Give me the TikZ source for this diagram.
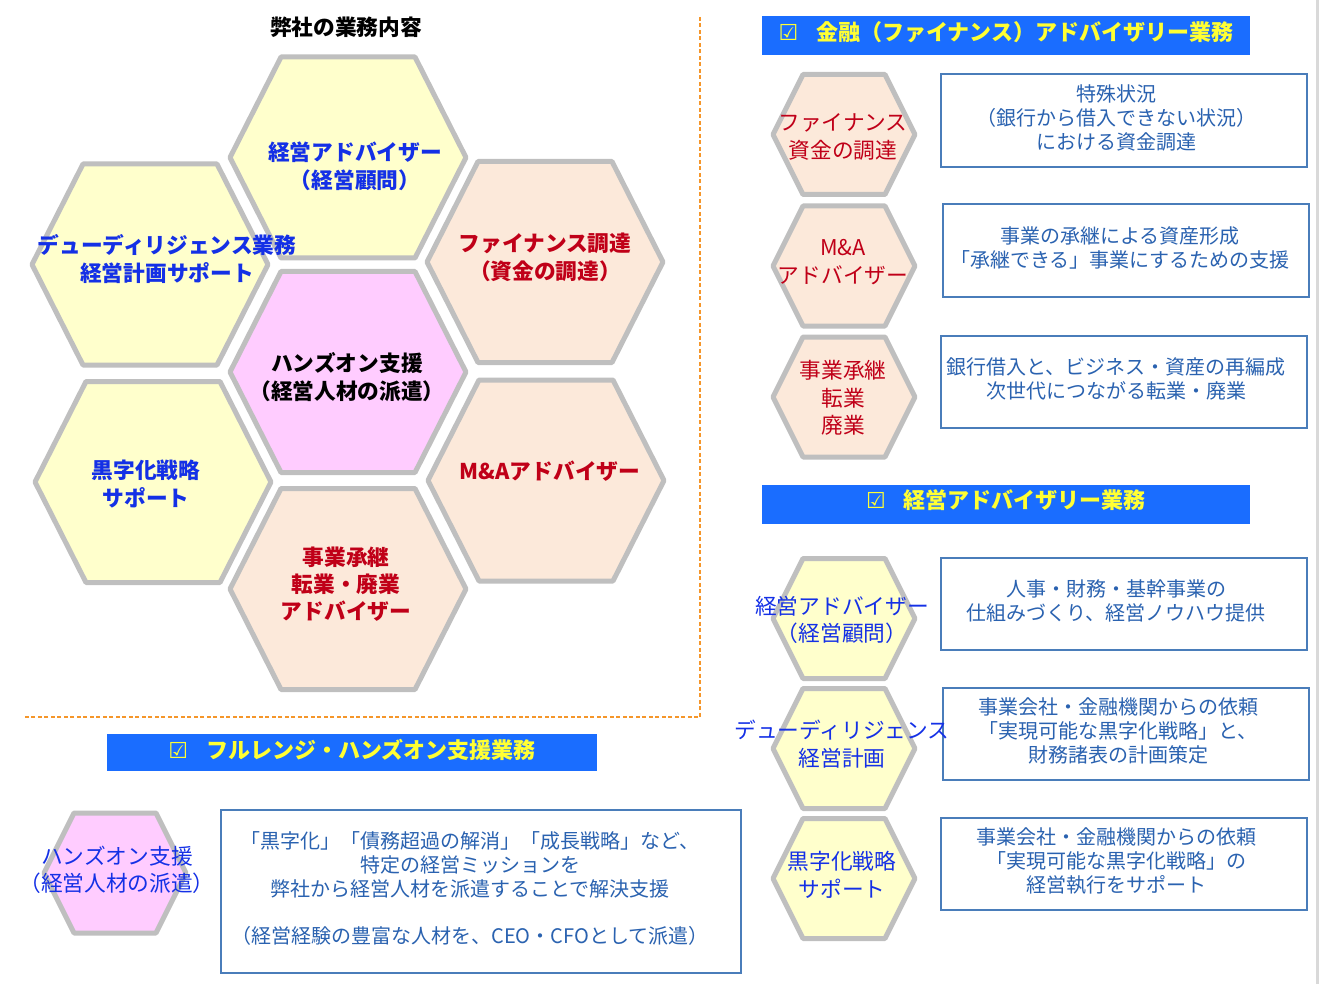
\documentclass[tikz,border=0pt]{standalone}
\usepackage{fontspec}
\setmainfont{Noto Sans CJK JP}
\newfontfamily\symbolfont{DejaVu Sans}

\definecolor{hex-gray}{HTML}{BFBFBF}
\definecolor{hex-yellow}{HTML}{FFFFCC}
\definecolor{hex-peach}{HTML}{FCE9DA}
\definecolor{hex-pink}{HTML}{FFCCFF}
\definecolor{txt-blue}{HTML}{1430E6}
\definecolor{txt-red}{HTML}{C00018}
\definecolor{desc-blue}{HTML}{2A62B0}
\definecolor{box-line}{HTML}{4A7DBA}
\definecolor{head-blue}{HTML}{1A6DFF}
\definecolor{head-yellow}{HTML}{FFFF33}
\definecolor{frame-orange}{HTML}{F5962A}
\definecolor{edge-gray}{HTML}{D9D9D9}

\tikzstyle{hex-line}=[draw={hex-gray}, line width=5pt, line join=round]
\tikzstyle{hex-text}=[align=center, inner sep=0pt, font=\fontsize{21.7}{27.5}\selectfont]
\tikzstyle{hex-bold}=[align=center, inner sep=0pt, font=\fontsize{21.7}{28}\selectfont\bfseries]
\tikzstyle{desc-box}=[draw={box-line}, line width=1.8pt, fill=white, inner sep=0pt]
\tikzstyle{desc-text}=[align=center, inner sep=0pt, text={desc-blue}, font=\fontsize{20}{24}\selectfont]
\tikzstyle{head-box}=[fill={head-blue}, inner sep=0pt]
\tikzstyle{head-text}=[inner sep=0pt, text={head-yellow}, font=\fontsize{22}{26}\selectfont\bfseries]
\tikzstyle{frame-line}=[draw={frame-orange}, line width=1.5pt, dash pattern=on 4pt off 2.5pt]

\newcommand{\hexcell}[5]{\draw[hex-line, fill=#5, shift={#1}] (-#2,0) -- (-#3,-#4) -- (#3,-#4) -- (#2,0) -- (#3,#4) -- (-#3,#4) -- cycle;}
\newcommand{\tick}{{\symbolfont\fontsize{22}{24}\selectfont ☑}\hspace{18pt}}

\begin{document}
\begin{tikzpicture}[x=1pt, y=-1pt]
      \useasboundingbox (0,0) rectangle (1319,984);

      \coordinate (frame-top) at (700,17);
      \coordinate (frame-corner) at (700,717);
      \coordinate (frame-left) at (25,717);
      \draw[frame-line] (frame-top) -- (frame-corner) -- (frame-left);

      \coordinate (edge-top) at (1317.5,0);
      \coordinate (edge-bottom) at (1317.5,984);
      \draw[draw={edge-gray}, line width=3pt] (edge-top) -- (edge-bottom);

      \hexcell{(348,157.5)}{118}{67}{100.5}{hex-yellow}
      \hexcell{(150,264.5)}{118}{67}{100.5}{hex-yellow}
      \hexcell{(545,262)}{118}{67}{100.5}{hex-peach}
      \hexcell{(348,372)}{118}{67}{100.5}{hex-pink}
      \hexcell{(153,482)}{118}{67}{100.5}{hex-yellow}
      \hexcell{(546,480.5)}{118}{67}{100.5}{hex-peach}
      \hexcell{(348,589)}{118}{67}{100.5}{hex-peach}

      \hexcell{(844,134.5)}{71}{41}{60}{hex-peach}
      \hexcell{(844,266)}{71}{41}{60}{hex-peach}
      \hexcell{(844,397)}{71}{41}{60}{hex-peach}
      \hexcell{(844,618.5)}{71}{41}{60}{hex-yellow}
      \hexcell{(844,748.5)}{71}{41}{60}{hex-yellow}
      \hexcell{(844,878.5)}{71}{41}{60}{hex-yellow}
      \hexcell{(115,873)}{71}{41}{60}{hex-pink}

      \node (head-1) at (1006,36) [head-box, minimum width=488pt, minimum height=39pt] {};
      \node (head-2) at (1006,504) [head-box, minimum width=488pt, minimum height=39pt] {};
      \node (head-3) at (352,752.5) [head-box, minimum width=490pt, minimum height=37pt] {};
      \node (head-1-txt) at ([yshift=4pt]head-1.center) [head-text] {\tick 金融（ファイナンス）アドバイザリー業務};
      \node (head-2-txt) at ([yshift=4pt]head-2.center) [head-text] {\tick 経営アドバイザリー業務};
      \node (head-3-txt) at ([yshift=3pt]head-3.center) [head-text] {\tick フルレンジ・ハンズオン支援業務};

      \node (desc-1) at (1124,120.5) [desc-box, minimum width=366pt, minimum height=93pt] {};
      \node (desc-2) at (1126,250.5) [desc-box, minimum width=366pt, minimum height=93pt] {};
      \node (desc-3) at (1124,382) [desc-box, minimum width=366pt, minimum height=92pt] {};
      \node (desc-4) at (1124,604) [desc-box, minimum width=366pt, minimum height=92pt] {};
      \node (desc-5) at (1126,734) [desc-box, minimum width=366pt, minimum height=92pt] {};
      \node (desc-6) at (1124,864) [desc-box, minimum width=366pt, minimum height=92pt] {};
      \node (desc-7) at (481,891.5) [desc-box, minimum width=520pt, minimum height=163pt] {};

      \node (desc-1-txt) at ([xshift=-8pt, yshift=3pt]desc-1.center) [desc-text] {特殊状況\\（銀行から借入できない状況）\\における資金調達};
      \node (desc-2-txt) at ([xshift=-6pt, yshift=3pt]desc-2.center) [desc-text] {事業の承継による資産形成\\「承継できる」事業にするための支援};
      \node (desc-3-txt) at ([xshift=-8pt, yshift=3pt]desc-3.center) [desc-text] {銀行借入と、ビジネス・資産の再編成\\次世代につながる転業・廃業};
      \node (desc-4-txt) at ([xshift=-8pt, yshift=3pt]desc-4.center) [desc-text] {人事・財務・基幹事業の\\仕組みづくり、経営ノウハウ提供};
      \node (desc-5-txt) at ([xshift=-8pt, yshift=3pt]desc-5.center) [desc-text] {事業会社・金融機関からの依頼\\「実現可能な黒字化戦略」と、\\財務諸表の計画策定};
      \node (desc-6-txt) at ([xshift=-8pt, yshift=3pt]desc-6.center) [desc-text] {事業会社・金融機関からの依頼\\「実現可能な黒字化戦略」の\\経営執行をサポート};
      \node (desc-7-txt) at ([xshift=-11pt, yshift=3pt]desc-7.center) [desc-text] {「黒字化」「債務超過の解消」「成長戦略」など、\\特定の経営ミッションを\\弊社から経営人材を派遣することで解決支援\\[23pt]（経営経験の豊富な人材を、CEO・CFOとして派遣）};

      \node (title) at (346,27) [hex-bold, text=black] {弊社の業務内容};
      \node (cell-advisor) at (355,166) [hex-bold, text={txt-blue}] {経営アドバイザー\\（経営顧問）};
      \node (cell-diligence) at (167,259) [hex-bold, text={txt-blue}] {デューディリジェンス業務\\経営計画サポート};
      \node (cell-finance) at (545,257) [hex-bold, text={txt-red}] {ファイナンス調達\\（資金の調達）};
      \node (cell-handson) at (347,377) [hex-bold, text=black] {ハンズオン支援\\（経営人材の派遣）};
      \node (cell-profit) at (146,484) [hex-bold, text={txt-blue}] {黒字化戦略\\サポート};
      \node (cell-ma) at (550,471) [hex-bold, text={txt-red}] {M\&Aアドバイザー};
      \node (cell-succession) at (346,584) [hex-bold, text={txt-red}, font=\fontsize{21.7}{27}\selectfont\bfseries] {事業承継\\転業・廃業\\アドバイザー};

      \node (fin-1) at (843,137) [hex-text, text={txt-red}] {ファイナンス\\資金の調達};
      \node (fin-2) at (843,262) [hex-text, text={txt-red}] {M\&A\\アドバイザー};
      \node (fin-3) at (843,398) [hex-text, text={txt-red}] {事業承継\\転業\\廃業};
      \node (mgmt-1) at (842,620) [hex-text, text={txt-blue}] {経営アドバイザー\\（経営顧問）};
      \node (mgmt-2) at (842,744) [hex-text, text={txt-blue}] {デューディリジェンス\\経営計画};
      \node (mgmt-3) at (842,875) [hex-text, text={txt-blue}] {黒字化戦略\\サポート};
      \node (full-1) at (117,870) [hex-text, text={txt-blue}] {ハンズオン支援\\（経営人材の派遣）};
\end{tikzpicture}
\end{document}
